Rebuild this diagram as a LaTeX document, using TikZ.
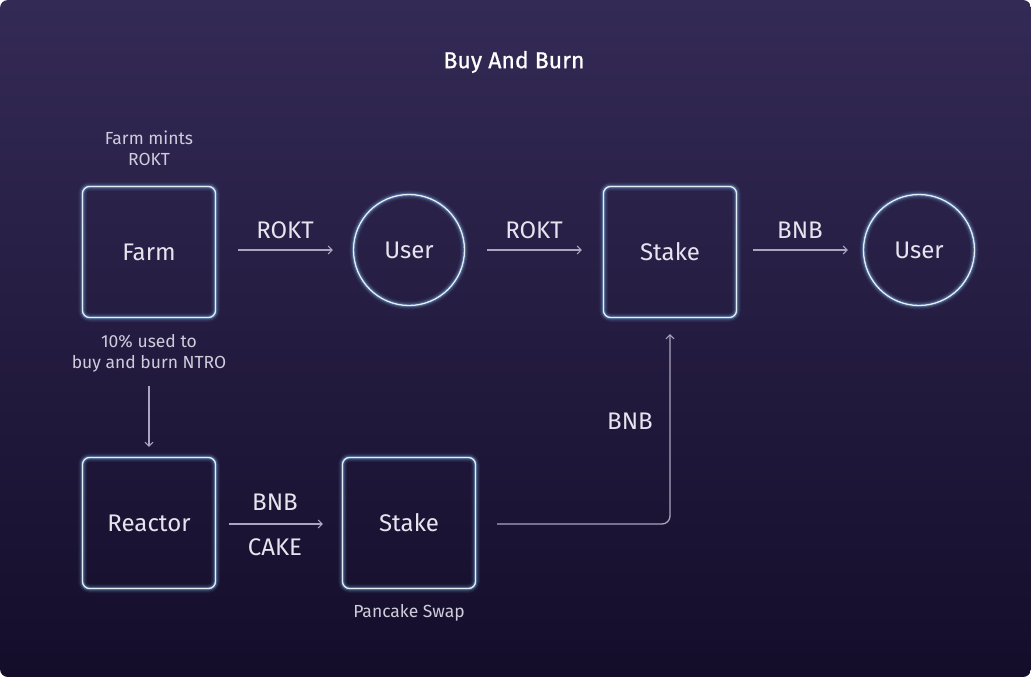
\documentclass[tikz,border=0pt]{standalone}
\usepackage{fontspec}
\setmainfont{Fira Sans}
\newfontfamily\titlefont{Fira Sans}[FakeBold=0.8]
\usetikzlibrary{arrows.meta}
\definecolor{bgtop}{HTML}{342A56}
\definecolor{bgbot}{HTML}{140D2A}
\definecolor{glowc}{HTML}{7DBCEB}
\definecolor{edgec}{HTML}{E4EEF8}
\definecolor{txtc}{HTML}{E6E4EE}
\definecolor{captc}{HTML}{D0CCDC}
\definecolor{arrc}{HTML}{ABA5BF}
\tikzset{
  glowing/.style={
    preaction={draw=glowc,line width=8.5pt,opacity=.07},
    preaction={draw=glowc,line width=6pt,opacity=.13},
    preaction={draw=glowc,line width=3.5pt,opacity=.3},
    draw=edgec,line width=1.3pt},
  boxnode/.style={glowing,rounded corners=7pt,minimum width=133pt,minimum height=131pt,
    text=txtc,font=\fontsize{24}{28}\selectfont},
  circnode/.style={glowing,circle,minimum size=111pt,inner sep=0pt,
    text=txtc,font=\fontsize{24}{28}\selectfont},
  lbl/.style={text=txtc,font=\fontsize{24}{28}\selectfont,inner sep=0pt},
  capt/.style={text=captc,font=\fontsize{17.5}{21}\selectfont,align=center,inner sep=0pt},
  arr/.style={draw=arrc,line width=1.3pt,-{Straight Barb[length=4pt,width=8pt,line width=1pt]}},
}
\begin{document}
\begin{tikzpicture}[x=1pt,y=-1pt]
\useasboundingbox (0,0) rectangle (1031,677);
\shade[top color=bgtop,bottom color=bgbot,rounded corners=8pt] (0,0) rectangle (1031,677);
\node[text=white,font=\titlefont\fontsize{23}{27}\selectfont] (title) at (514,62) {Buy And Burn};

\node[boxnode] (farm) at (149,252) {Farm};
\node[circnode] (user1) at (409,250) {User};
\node[boxnode] (stake1) at (670,252) {Stake};
\node[circnode] (user2) at (919,250) {User};
\node[boxnode] (reactor) at (149,523) {Reactor};
\node[boxnode] (stake2) at (409,523) {Stake};

\node[capt] (mints) at (149,148) {Farm mints\\ROKT};
\node[capt] (used) at (149,353) {10\% used to\\buy and burn NTRO};
\node[capt] (pancake) at (409,613) {Pancake Swap};

\draw[arr] ([xshift=22pt]farm.east|-user1.center) -- ([xshift=-20pt]user1.west);
\draw[arr] ([xshift=22pt]user1.east) -- ([xshift=-21pt]stake1.west|-user1.center);
\draw[arr] ([xshift=16pt]stake1.east|-user2.center) -- ([xshift=-15pt]user2.west);
\draw[arr] ([yshift=-68pt]farm.south) -- ([yshift=10pt]reactor.north);
\draw[arr] ([xshift=13pt,yshift=-1pt]reactor.east) -- ([xshift=-19pt,yshift=-1pt]stake2.west);
\draw[arr,rounded corners=8pt] ([xshift=21pt,yshift=-1pt]stake2.east) -| ([yshift=-16pt]stake1.south);

\node[lbl] (l1) at (285,230) {ROKT};
\node[lbl] (l2) at (534,230) {ROKT};
\node[lbl] (l3) at (800,230) {BNB};
\node[lbl] (l4) at (275,502) {BNB};
\node[lbl] (l5) at (275,547) {CAKE};
\node[lbl] (l6) at (630,421) {BNB};
\end{tikzpicture}
\end{document}
